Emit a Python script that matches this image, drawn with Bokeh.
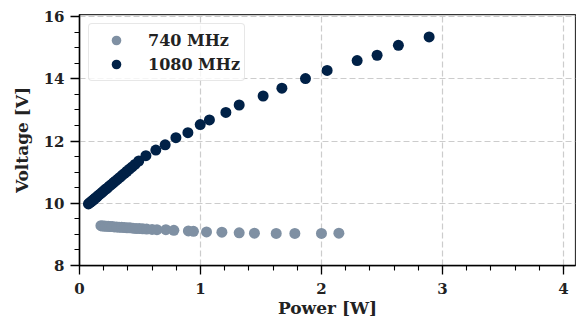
from bokeh.plotting import figure
from bokeh.models import Range1d, FixedTicker, Legend, LegendItem
from bokeh.embed import file_html
from bokeh.resources import INLINE

# 740 MHz series
power_740 = [0.177, 0.19, 0.205, 0.22, 0.236, 0.252, 0.27, 0.288, 0.307, 0.327,
             0.348, 0.37, 0.393, 0.417, 0.442, 0.468, 0.495, 0.523, 0.555, 0.6,
             0.64, 0.714, 0.78, 0.90, 0.942, 1.05, 1.177, 1.32, 1.446, 1.626,
             1.78, 2.0, 2.144]
voltage_740 = [9.28, 9.27, 9.27, 9.26, 9.26, 9.25, 9.25, 9.24, 9.24, 9.23,
               9.23, 9.22, 9.21, 9.21, 9.20, 9.19, 9.19, 9.18, 9.17, 9.16,
               9.15, 9.15, 9.13, 9.11, 9.10, 9.08, 9.07, 9.05, 9.04, 9.03,
               9.03, 9.03, 9.04]

# 1080 MHz series
power_1080 = [0.074, 0.085, 0.096, 0.108, 0.12, 0.132, 0.145, 0.158, 0.172, 0.186,
              0.2, 0.215, 0.23, 0.246, 0.262, 0.279, 0.296, 0.314, 0.333, 0.352,
              0.372, 0.392, 0.413, 0.435, 0.458, 0.49, 0.549, 0.631, 0.708, 0.797,
              0.896, 0.998, 1.074, 1.21, 1.32, 1.518, 1.673, 1.868, 2.047, 2.295,
              2.46, 2.636, 2.89]
voltage_1080 = [9.98, 10.02, 10.05, 10.09, 10.13, 10.17, 10.21, 10.26, 10.30, 10.35,
                10.40, 10.45, 10.49, 10.55, 10.60, 10.66, 10.71, 10.77, 10.83, 10.90,
                10.96, 11.03, 11.10, 11.17, 11.25, 11.36, 11.53, 11.71, 11.88, 12.11,
                12.27, 12.53, 12.68, 12.92, 13.16, 13.45, 13.70, 14.01, 14.27, 14.59,
                14.76, 15.08, 15.35]

labels = ["740 MHz", "1080 MHz"]
x_ticks = [0, 1, 2, 3, 4]
y_ticks = [8, 10, 12, 14, 16]

FONT = "DejaVu Serif"

p = figure(width=576, height=326, output_backend="svg", toolbar_location=None,
           x_range=Range1d(0, 4.1), y_range=Range1d(8, 16.07))
p.min_border_left = 79
p.min_border_right = 1
p.min_border_top = 14
p.min_border_bottom = 61

r1 = p.scatter(power_740, voltage_740, size=11, color="#7f90a3", line_width=0)
r2 = p.scatter(power_1080, voltage_1080, size=11, color="#002147", line_width=0)

p.outline_line_color = "#333333"
p.outline_line_width = 1.25

for ax in (p.xaxis[0], p.yaxis[0]):
    ax.axis_line_color = "black"
    ax.axis_line_width = 1.5
    ax.major_tick_line_color = "black"
    ax.major_tick_line_width = 1.3
    ax.minor_tick_line_color = "black"
    ax.minor_tick_line_width = 1.1
    ax.major_tick_out = 9
    ax.major_tick_in = 0
    ax.minor_tick_out = 5
    ax.minor_tick_in = 0
    ax.major_label_text_font = FONT
    ax.major_label_text_font_style = "bold"
    ax.major_label_text_font_size = "15px"
    ax.major_label_text_color = "#222222"
    ax.axis_label_text_font = FONT
    ax.axis_label_text_font_style = "bold"
    ax.axis_label_text_font_size = "17px"
    ax.axis_label_text_color = "#222222"

p.xaxis[0].ticker = FixedTicker(ticks=x_ticks, minor_ticks=[i * 0.2 for i in range(21)])
p.yaxis[0].ticker = FixedTicker(ticks=y_ticks, minor_ticks=[8 + i * 0.5 for i in range(17)])
p.xaxis[0].axis_label = "Power [W]"
p.yaxis[0].axis_label = "Voltage [V]"
p.xaxis[0].major_label_standoff = 8
p.yaxis[0].major_label_standoff = 6
p.xaxis[0].axis_label_standoff = 1
p.yaxis[0].axis_label_standoff = 9

for g in (p.xgrid[0], p.ygrid[0]):
    g.grid_line_color = "#cccccc"
    g.grid_line_dash = "6 3"
    g.grid_line_width = 1.2

legend = Legend(items=[LegendItem(label=labels[0], renderers=[r1]),
                       LegendItem(label=labels[1], renderers=[r2])],
                location="top_left")
legend.margin = 9
legend.padding = 4
legend.spacing = 0
legend.glyph_width = 46
legend.glyph_height = 24
legend.label_height = 24
legend.label_standoff = 9
legend.label_text_font = FONT
legend.label_text_font_style = "bold"
legend.label_text_font_size = "16px"
legend.label_text_color = "#222222"
legend.border_line_color = "#d0d0d0"
legend.border_line_width = 1
legend.border_radius = 4
legend.background_fill_alpha = 0.8
p.add_layout(legend)

open("out.html", "w").write(file_html(p, INLINE))
